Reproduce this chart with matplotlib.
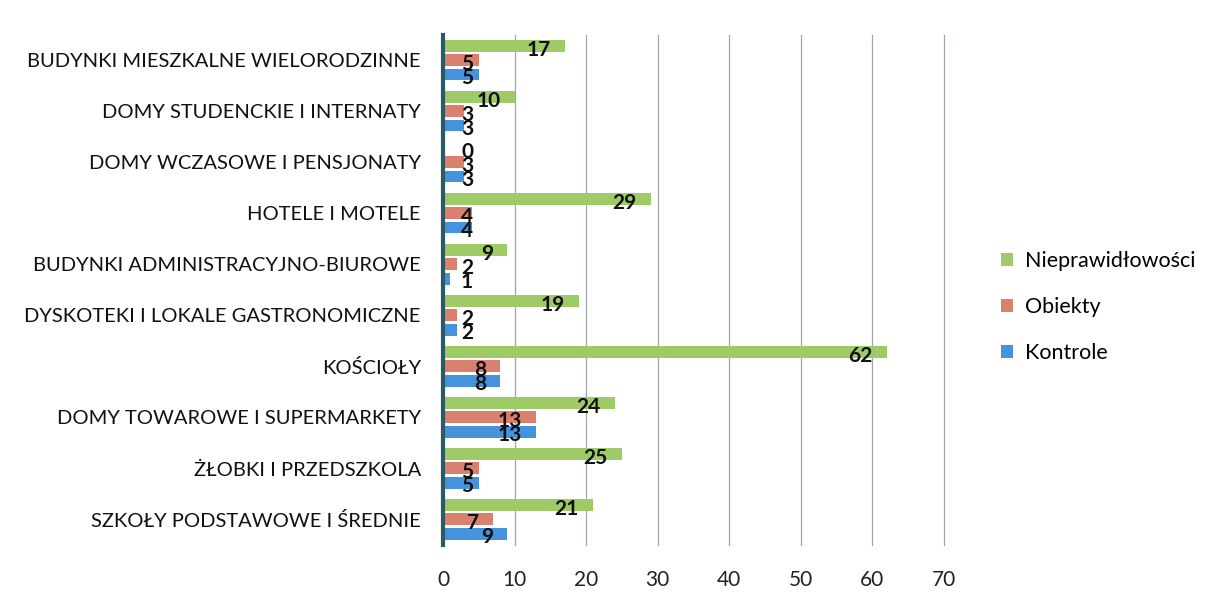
import numpy as np
import matplotlib.pyplot as plt
from matplotlib.patches import Patch

plt.rcParams['font.family'] = ['Lato', 'DejaVu Sans']

# categories listed top to bottom, as in the picture
categories = [
    "BUDYNKI MIESZKALNE WIELORODZINNE",
    "DOMY STUDENCKIE I INTERNATY",
    "DOMY WCZASOWE I PENSJONATY",
    "HOTELE I MOTELE",
    "BUDYNKI ADMINISTRACYJNO-BIUROWE",
    "DYSKOTEKI I LOKALE GASTRONOMICZNE",
    "KOŚCIOŁY",
    "DOMY TOWAROWE I SUPERMARKETY",
    "ŻŁOBKI I PRZEDSZKOLA",
    "SZKOŁY PODSTAWOWE I ŚREDNIE",
]
nieprawidlowosci = [17, 10, 0, 29, 9, 19, 62, 24, 25, 21]
obiekty = [5, 3, 3, 4, 2, 2, 8, 13, 5, 7]
kontrole = [5, 3, 3, 4, 1, 2, 8, 13, 5, 9]
xticks = [0, 10, 20, 30, 40, 50, 60, 70]

series = [
    ("Nieprawidłowości", nieprawidlowosci, "#9fca68"),
    ("Obiekty", obiekty, "#d9806f"),
    ("Kontrole", kontrole, "#4592dd"),
]

fig = plt.figure(figsize=(12.18, 6.02), dpi=100, facecolor="white")
ax = fig.add_axes([0.3637, 0.0947, 0.4113, 0.8472])

n = len(categories)
y = np.arange(n)[::-1]  # top category gets highest y
pitch = 0.275
height = 0.235

for i, (name, vals, col) in enumerate(series):
    yy = y + (1 - i) * pitch
    ax.barh(yy, vals, height=height, color=col, zorder=3)
    # labels sit just inside the bar end, like Excel "inside end"
    for v, yc in zip(vals, yy):
        if v >= 10:
            xr = v - 2.0
        else:
            xr = max(v - 2.0, 4.2)
        ax.text(xr, yc - 0.06, str(v), ha="right", va="center",
                fontsize=15, fontweight="bold", color="#111111", zorder=5)

ax.set_xlim(0, 70)
ax.set_ylim(-0.5, n - 0.5)
ax.set_xticks(xticks)
ax.set_xticklabels([str(t) for t in xticks], fontsize=15, color="#222222")
ax.set_yticks(y)
ax.set_yticklabels(categories, fontsize=14.5, color="#111111")
ax.tick_params(axis="both", length=0)
ax.tick_params(axis="x", pad=18)
ax.tick_params(axis="y", pad=16)

ax.grid(axis="x", color="#9aa8ad", linewidth=0.9, zorder=0)
for gl in ax.xaxis.get_gridlines():
    gl.set_clip_on(False)
for s in ["top", "right", "bottom"]:
    ax.spines[s].set_visible(False)
ax.spines["left"].set_color("#2b5964")
ax.spines["left"].set_linewidth(3)
ax.spines["left"].set_zorder(6)

handles = [Patch(facecolor=c, label=nm) for nm, _, c in series]
leg = fig.legend(handles=handles, loc="center left", bbox_to_anchor=(0.797, 0.49),
                 frameon=True, fontsize=15.5, handlelength=0.55, handleheight=0.55,
                 handletextpad=0.55, labelspacing=1.2, borderpad=0.9)
leg.get_frame().set_facecolor("white")
leg.get_frame().set_edgecolor("white")

fig.savefig("out.png", dpi=100, facecolor="white")
